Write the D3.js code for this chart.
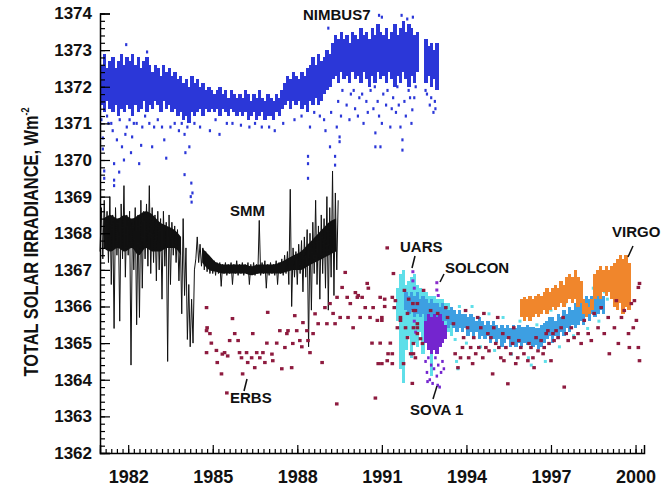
<!DOCTYPE html>
<html>
<head>
<meta charset="utf-8">
<script src="https://cdn.jsdelivr.net/npm/d3@7"></script>
<style>
body { margin: 0; background: #fff; }
text { font-family: "Liberation Sans", Arial, Helvetica, sans-serif; font-weight: bold; }
</style>
</head>
<body>
<svg id="chart" width="667" height="487"></svg>
<script>
// ---- data ----
var BIN = 0.1; // banded series are given as min/max per 0.1 yr bin

// NIMBUS7 dense band, bins from 1981.0
var nimbusStart = 1981.0;
var nimbusHi = [
  1372.6, 1372.9, 1372.5, 1372.7, 1372.8, 1372.5, 1372.7, 1372.9, 1372.6, 1372.8,
  1372.7, 1372.9, 1372.6, 1372.8, 1372.5, 1372.7, 1372.8, 1372.6, 1372.4, 1372.6,
  1372.5, 1372.3, 1372.6, 1372.4, 1372.5, 1372.3, 1372.4, 1372.2, 1372.3, 1372.1,
  1372.2, 1372.0, 1372.3, 1372.1, 1372.2, 1372.0, 1372.1, 1371.9, 1372.0, 1371.9,
  1371.8, 1371.9, 1372.0, 1371.8, 1371.9, 1371.7, 1371.9, 1371.8, 1371.7, 1371.8,
  1371.7, 1371.9, 1371.8, 1371.6, 1371.8, 1371.7, 1371.9, 1371.7, 1371.6, 1371.8,
  1371.7, 1371.6, 1371.8, 1371.7, 1371.9, 1372.1, 1372.3, 1372.2, 1372.4, 1372.3,
  1372.2, 1372.4, 1372.3, 1372.5, 1372.6, 1372.8, 1372.6, 1372.9, 1372.7, 1372.8,
  1373.0, 1372.9, 1373.2, 1373.4, 1373.3, 1373.5, 1373.3, 1373.4, 1373.2, 1373.5,
  1373.4, 1373.3, 1373.6, 1373.4, 1373.5, 1373.3, 1373.6, 1373.4, 1373.7, 1373.5,
  1373.4, 1373.6, 1373.3, 1373.5, 1373.7, 1373.4, 1373.6, 1373.8, 1373.5, 1373.7,
  1373.6, 1373.4, 1373.5, null, null, 1373.3, 1373.1, 1373.2, 1373.0, 1373.2
];
var nimbusLo = [
  1371.5, 1371.3, 1371.6, 1371.4, 1371.3, 1371.5, 1371.2, 1371.4, 1371.3, 1371.5,
  1371.4, 1371.2, 1371.5, 1371.3, 1371.4, 1371.6, 1371.3, 1371.5, 1371.4, 1371.6,
  1371.5, 1371.3, 1371.6, 1371.4, 1371.5, 1371.3, 1371.4, 1371.2, 1371.3, 1371.1,
  1371.2, 1371.0, 1371.3, 1371.2, 1371.3, 1371.4, 1371.2, 1371.4, 1371.3, 1371.4,
  1371.3, 1371.4, 1371.2, 1371.4, 1371.3, 1371.2, 1371.4, 1371.3, 1371.2, 1371.3,
  1371.2, 1371.3, 1371.1, 1371.2, 1371.3, 1371.1, 1371.2, 1371.3, 1371.1, 1371.2,
  1371.2, 1371.1, 1371.3, 1371.2, 1371.4, 1371.5, 1371.6, 1371.4, 1371.6, 1371.5,
  1371.6, 1371.4, 1371.5, 1371.3, 1371.6, 1371.5, 1371.7, 1371.5, 1371.6, 1371.8,
  1371.9, 1372.0, 1372.2, 1372.3, 1372.1, 1372.4, 1372.2, 1372.3, 1372.1, 1372.4,
  1372.2, 1372.3, 1372.1, 1372.4, 1372.2, 1372.0, 1372.3, 1372.1, 1372.4, 1372.2,
  1372.3, 1372.1, 1372.4, 1372.2, 1372.0, 1372.3, 1372.1, 1372.4, 1372.2, 1372.0,
  1372.3, 1372.1, 1372.4, null, null, 1372.1, 1372.3, 1372.0, 1372.2, 1371.9
];
// NIMBUS7 scattered daily values outside the band [year, W/m2]
var nimbusPts = [
  [1981.1,1370.6],[1981.1,1370.3],[1981.15,1369.7],[1981.15,1369.5],[1981.3,1371.0],[1981.45,1370.8],
  [1981.5,1369.9],[1981.5,1369.45],[1981.5,1369.3],[1981.6,1370.55],[1981.68,1369.67],[1981.78,1370.36],
  [1981.85,1370.0],[1981.9,1370.7],[1981.93,1373.15],[1982.1,1370.2],[1982.14,1370.63],[1982.2,1371.0],
  [1982.39,1369.9],[1982.46,1370.4],[1982.5,1370.9],[1982.67,1372.95],[1982.85,1370.36],[1982.92,1370.9],
  [1983.28,1370.55],[1983.35,1370.05],[1983.5,1370.9],[1984.0,1369.6],[1984.03,1370.2],[1984.17,1370.36],
  [1984.24,1369.37],[1984.28,1369.1],[1984.0,1370.7],[1984.1,1370.9],[1984.25,1368.85],[1984.22,1369.0],
  [1984.9,1370.8],[1985.24,1370.7],[1985.7,1371.0],[1986.74,1370.9],[1987.2,1370.8],[1988.38,1370.1],
  [1988.38,1369.9],[1988.38,1369.5],[1988.45,1370.9],[1988.8,1371.2],[1989.1,1373.6],[1989.16,1370.36],
  [1989.34,1370.1],[1989.34,1369.86],[1989.5,1370.63],[1989.5,1370.5],[1989.4,1370.9],[1989.45,1371.6],
  [1989.6,1371.9],[1989.75,1371.5],[1989.9,1371.8],[1990.05,1371.4],[1990.2,1371.7],[1990.35,1371.0],
  [1990.5,1371.3],[1990.6,1371.9],[1990.77,1370.74],[1990.77,1370.36],[1990.85,1371.6],[1990.9,1371.2],
  [1990.9,1373.95],[1990.95,1370.36],[1991.0,1373.9],[1991.05,1371.8],[1991.15,1371.5],[1991.3,1370.9],
  [1991.4,1371.7],[1991.5,1371.3],[1991.66,1370.9],[1991.7,1373.95],[1991.73,1370.55],[1991.73,1370.27],
  [1991.8,1371.6],[1991.9,1373.85],[1991.95,1371.9],[1992.08,1371.37],[1992.1,1373.9],[1992.15,1371.7],
  [1992.2,1372.0],[1992.6,1371.8],[1992.7,1371.5],[1992.83,1371.3],[1992.88,1371.6],
  [1981.05,1371.1],[1981.25,1371.2],[1981.4,1371.0],[1981.7,1371.1],[1981.95,1370.9],[1982.05,1371.1],
  [1982.3,1371.0],[1982.6,1371.2],[1982.75,1371.0],[1983.05,1371.1],[1983.2,1370.9],[1983.65,1371.0],
  [1983.8,1370.8],[1983.9,1371.0],[1984.35,1371.0],[1984.55,1370.9],[1985.1,1371.1],[1985.5,1371.0],
  [1986.0,1370.95],[1986.3,1370.9],[1986.5,1371.0],[1987.0,1370.9],[1987.5,1371.0],[1987.9,1371.1],
  [1988.15,1371.2],[1988.6,1371.3],[1988.95,1371.1],[1989.2,1371.3],[1989.55,1371.2],[1989.85,1371.1],
  [1990.0,1371.9],[1990.15,1371.2],[1990.3,1371.8],[1990.45,1371.6],[1990.7,1371.4],[1990.75,1372.0],
  [1991.0,1371.0],[1991.2,1371.9],[1991.35,1371.4],[1991.55,1372.0],[1991.6,1371.5],[1991.85,1371.2],
  [1992.0,1371.7],[1992.05,1371.0],[1992.55,1371.9],[1992.75,1371.7],[1992.9,1371.4],[1989.0,1370.8]
];

// SMM, min/max per bin from 1981.0 (spikes included)
var smmStart = 1981.0;
var smmLo = [
  1367.5, 1367.3, 1367.6, 1367.2, 1366.6, 1365.4, 1367.4, 1365.6, 1367.3, 1366.8,
  1367.4, 1364.4, 1367.0, 1365.5, 1365.7, 1366.5, 1367.3, 1367.1, 1366.9, 1367.2,
  1366.7, 1367.0, 1366.2, 1367.1, 1364.5, 1366.6, 1367.4, 1367.2, 1366.7, 1365.8,
  1366.3, 1365.1, 1364.9, 1365.0, 1367.3, 1367.2, 1367.1, 1367.0, 1366.95, 1366.9,
  1366.9, 1366.85, 1366.9, 1366.55, 1366.9, 1366.85, 1366.9, 1366.6, 1366.9, 1366.85,
  1366.9, 1366.85, 1366.9, 1366.6, 1366.9, 1366.85, 1366.9, 1366.85, 1366.9, 1366.5,
  1366.85, 1366.9, 1366.85, 1366.6, 1366.9, 1366.85, 1366.9, 1366.6, 1366.0, 1366.8,
  1366.6, 1366.9, 1366.4, 1366.8, 1364.9, 1365.9, 1366.9, 1366.6, 1366.2, 1366.9,
  1366.5, 1365.9, 1366.8, 1366.3, 1367.0
];
var smmHi = [
  1368.7, 1368.9, 1368.6, 1369.0, 1368.5, 1368.7, 1368.4, 1368.8, 1369.3, 1368.5,
  1368.6, 1368.3, 1368.7, 1368.5, 1368.9, 1368.6, 1368.8, 1369.3, 1368.7, 1368.5,
  1368.6, 1368.4, 1368.6, 1368.3, 1368.5, 1368.3, 1368.2, 1368.1, 1367.9, 1368.4,
  1367.6, 1366.6, 1366.2, 1367.0, 1367.9, 1367.7, 1367.6, 1367.5, 1367.4, 1367.3,
  1367.25, 1367.2, 1367.2, 1367.15, 1367.2, 1367.15, 1367.2, 1367.15, 1367.25, 1367.15,
  1367.2, 1367.15, 1367.2, 1367.15, 1367.2, 1367.15, 1368.35, 1367.2, 1367.25, 1367.15,
  1367.2, 1367.15, 1367.25, 1367.2, 1367.3, 1367.4, 1367.5, 1369.2, 1367.6, 1367.5,
  1367.7, 1367.8, 1367.9, 1368.1, 1368.0, 1368.3, 1368.9, 1368.2, 1368.5, 1368.4,
  1369.0, 1368.7, 1369.7, 1369.1, 1368.9
];
// SMM dense core, per 0.25 yr from 1981.0 (none across the early-1984 drop)
var SMM_CORE_BIN = 0.25;
var smmCoreLo = [
  1367.6, 1367.5, 1367.6, 1367.5, 1367.6, 1367.4, 1367.6, 1367.5, 1367.5, 1367.6,
  1367.6, 1367.4, null, null, 1367.2, 1367.0, 1366.95, 1366.9, 1366.9, 1366.9,
  1366.9, 1366.85, 1366.9, 1366.9, 1366.9, 1366.9, 1366.95, 1367.0, 1367.0, 1367.1,
  1367.2, 1367.3, 1367.4, 1367.5
];
var smmCoreHi = [
  1368.4, 1368.5, 1368.4, 1368.5, 1368.4, 1368.5, 1368.6, 1368.5, 1368.3, 1368.2,
  1368.1, 1367.9, null, null, 1367.6, 1367.4, 1367.2, 1367.15, 1367.15, 1367.15,
  1367.15, 1367.1, 1367.15, 1367.15, 1367.15, 1367.2, 1367.3, 1367.4, 1367.5, 1367.7,
  1367.9, 1368.1, 1368.3, 1368.4
];

// ERBS [year, W/m2]
var erbsPts = [
  [1984.78,1365.97],[1984.8,1365.42],[1984.78,1365.34],[1984.9,1365.26],[1984.78,1364.74],[1984.95,1365.0],
  [1985.13,1364.8],[1985.16,1364.47],[1985.31,1364.16],[1985.34,1364.7],[1985.42,1364.74],[1985.53,1364.65],
  [1985.6,1365.07],[1985.7,1365.67],[1985.78,1365.26],[1985.9,1365.07],[1985.95,1364.74],[1986.02,1364.6],
  [1986.06,1364.16],[1986.2,1364.74],[1986.24,1364.47],[1986.38,1364.6],[1986.42,1365.26],[1986.49,1364.33],
  [1986.56,1364.74],[1986.67,1364.6],[1986.78,1364.74],[1986.85,1364.47],[1986.92,1365.0],[1986.95,1365.84],
  [1987.1,1364.7],[1987.13,1364.52],[1987.27,1365.0],[1987.38,1365.34],[1987.45,1364.3],[1987.56,1364.88],
  [1987.63,1365.26],[1987.67,1365.34],[1987.8,1364.33],[1987.84,1364.99],[1987.91,1365.75],[1987.98,1365.34],
  [1988.09,1365.07],[1988.16,1364.9],[1988.2,1365.56],[1988.34,1365.34],[1988.38,1365.07],[1988.45,1364.74],
  [1988.56,1365.26],[1988.63,1365.8],[1988.74,1365.53],[1988.88,1364.47],[1988.98,1365.97],[1989.05,1365.53],
  [1989.16,1366.08],[1989.27,1365.81],[1989.34,1365.53],[1989.41,1366.25],[1989.52,1365.7],[1989.59,1366.52],
  [1989.7,1366.93],[1989.77,1366.25],[1989.8,1365.7],[1989.88,1366.08],[1989.98,1365.42],[1990.06,1366.38],
  [1990.13,1366.25],[1990.16,1366.3],[1990.23,1365.7],[1990.3,1366.25],[1990.41,1365.97],[1990.48,1366.63],
  [1990.52,1366.5],[1990.58,1365.7],[1990.65,1365.0],[1990.69,1365.97],[1990.84,1365.62],[1990.87,1364.44],
  [1990.94,1366.25],[1991.0,1365.7],[1991.1,1366.0],[1991.19,1367.6],[1991.22,1364.71],[1991.37,1364.44],
  [1991.41,1366.9],[1991.44,1365.97],[1991.55,1365.42],[1991.66,1365.7],[1991.77,1364.44],[1991.91,1365.15],
  [1992.08,1363.9],[1992.12,1364.71],[1992.19,1365.89],[1992.26,1365.42],[1990.77,1363.5],[1989.4,1363.34],
  [1985.5,1363.64],
  [1991.1,1366.2],[1991.37,1366.25],[1991.48,1366.16],[1991.0,1365.62],[1990.94,1365.0],[1991.3,1365.0],
  [1991.37,1364.71],[1991.19,1364.52],[1991.0,1364.44],[1991.8,1366.44],[1991.95,1366.2],[1992.1,1366.08],
  [1992.12,1365.89],[1991.91,1365.81],[1991.66,1365.62],[1991.84,1365.42],[1992.12,1365.42],[1992.26,1365.53],
  [1992.26,1366.08],[1992.12,1364.99],[1992.02,1364.71],[1992.19,1364.6],[1992.26,1365.26],[1992.37,1365.12],
  [1992.44,1364.99],[1992.48,1366.44],[1992.73,1365.89],[1992.98,1365.81],[1993.27,1365.97],[1993.33,1365.7],
  [1993.54,1365.53],[1993.6,1364.71],[1993.7,1364.33],[1993.79,1364.6],[1993.86,1364.88],[1993.9,1365.15],
  [1993.97,1365.89],[1994.04,1365.42],[1994.08,1364.6],[1994.15,1364.88],[1994.22,1364.44],[1994.26,1365.15],
  [1994.33,1364.71],[1994.4,1365.7],[1994.44,1364.88],[1994.51,1365.42],[1994.58,1364.6],[1994.62,1365.81],
  [1994.69,1364.88],[1994.76,1365.26],[1994.8,1364.79],[1994.87,1365.15],[1994.93,1364.16],[1994.97,1365.42],
  [1995.04,1364.99],[1995.11,1365.7],[1995.15,1364.88],[1995.22,1364.6],[1995.29,1365.26],[1995.33,1364.52],
  [1995.4,1364.88],[1995.47,1363.89],[1995.5,1365.15],[1995.57,1364.71],[1995.64,1364.99],[1995.68,1365.42],
  [1995.75,1364.44],[1995.82,1364.6],[1995.86,1365.07],[1995.93,1364.88],[1996.04,1364.71],[1996.18,1364.52],
  [1996.22,1364.99],[1996.29,1364.88],[1996.36,1364.6],[1996.4,1364.33],[1996.47,1365.15],[1996.54,1364.79],
  [1996.65,1365.07],[1996.72,1364.71],[1996.76,1364.88],[1996.83,1365.26],[1996.89,1365.34],[1996.93,1364.99],
  [1997.0,1364.52],[1997.07,1365.26],[1997.11,1365.07],[1997.18,1365.34],[1997.25,1365.15],[1997.36,1365.42],
  [1997.43,1365.7],[1997.47,1363.8],[1997.54,1365.26],[1997.61,1365.07],[1997.72,1365.42],[1997.82,1365.15],
  [1997.96,1365.26],[1998.07,1364.99],[1998.18,1365.62],[1998.32,1365.26],[1998.43,1365.07],[1998.53,1365.81],
  [1998.67,1365.42],[1998.78,1365.97],[1998.89,1365.26],[1999.03,1365.7],[1999.07,1364.71],[1999.25,1365.42],
  [1999.32,1366.16],[1999.39,1364.99],[1999.5,1365.7],[1999.6,1365.89],[1999.75,1365.26],[1999.78,1364.88],
  [1999.85,1366.08],[1999.92,1365.42],[1999.96,1366.16],[2000.03,1365.62],[2000.1,1364.88],[2000.14,1364.52],
  [2000.1,1366.52],[2000.14,1366.63]
];

// UARS (cyan) band, bins from 1991.5, plus scattered values
var uarsStart = 1991.5;
var uarsLo = [1365.6, 1364.3, 1363.9, 1364.8, 1365.2, 1364.6, 1365.0, 1364.9, 1365.3, 1364.7,
              1365.4, 1365.3, 1364.1, 1365.4, 1365.3, 1365.4, 1365.3, 1365.2, 1365.3, 1365.2];
var uarsHi = [1366.5, 1366.9, 1367.0, 1366.6, 1366.7, 1366.8, 1366.9, 1366.6, 1366.5, 1366.4,
              1366.4, 1366.3, 1366.3, 1366.3, 1366.2, 1366.2, 1366.2, 1366.1, 1366.1, 1366.0];
var uarsPts = [
  [1993.6,1365.1],[1993.65,1364.5],[1993.7,1364.3],[1993.75,1366.0],[1994.0,1365.0],[1994.2,1366.0],
  [1994.5,1364.9],[1994.8,1365.8],[1995.0,1364.8],[1995.3,1365.7],[1995.6,1364.7],[1995.9,1365.6],
  [1996.2,1364.6],[1996.3,1364.4],[1996.5,1365.5],[1996.8,1364.5],[1997.0,1365.9],[1997.3,1364.9],
  [1997.5,1366.1],[1997.8,1365.2],[1998.0,1366.4],[1998.3,1365.4],[1998.5,1366.5],[1998.7,1365.6],
  [1998.9,1366.4],[1999.0,1366.2]
];

// UARS/ACRIM dense band (sky blue), bins from 1991.8
var acrimStart = 1991.8;
var acrimLo = [
  1365.9, 1365.8, 1365.9, 1365.7, 1365.8, 1365.7, 1365.8, 1365.6, 1365.7, 1365.6,
  1365.7, 1365.5, 1365.6, 1365.5, 1365.6, 1365.4, 1365.5, 1365.4, 1365.3, 1365.4,
  1365.3, 1365.4, 1365.2, 1365.3, 1365.2, 1365.3, 1365.1, 1365.2, 1365.1, 1365.2,
  1365.0, 1365.1, 1365.0, 1365.1, 1364.9, 1365.0, 1365.1, 1364.9, 1365.0, 1364.9,
  1365.0, 1364.9, 1365.0, 1364.95, 1365.0, 1364.9, 1364.95, 1364.85, 1364.9, 1365.0,
  1365.1, 1365.2, 1365.0, 1365.2, 1365.1, 1365.3, 1365.2, 1365.4, 1365.3, 1365.5,
  1365.4, 1365.5, 1365.6, 1365.5, 1365.7, 1365.6, 1365.8, 1365.7, 1365.8, 1365.9,
  1365.8
];
var acrimHi = [
  1366.4, 1366.3, 1366.4, 1366.3, 1366.4, 1366.2, 1366.3, 1366.2, 1366.1, 1366.2,
  1366.1, 1366.1, 1366.0, 1366.1, 1366.0, 1365.9, 1366.0, 1365.9, 1365.8, 1365.9,
  1365.8, 1365.8, 1365.7, 1365.8, 1365.7, 1365.6, 1365.7, 1365.6, 1365.5, 1365.6,
  1365.5, 1365.6, 1365.5, 1365.4, 1365.5, 1365.4, 1365.5, 1365.4, 1365.5, 1365.4,
  1365.5, 1365.45, 1365.45, 1365.5, 1365.45, 1365.45, 1365.4, 1365.4, 1365.5, 1365.55,
  1365.6, 1365.7, 1365.7, 1365.6, 1365.8, 1365.7, 1365.9, 1365.8, 1366.0, 1365.9,
  1366.1, 1366.0, 1366.2, 1366.1, 1366.3, 1366.2, 1366.3, 1366.2, 1366.4, 1366.3,
  1366.3
];

// VIRGO band, bins from 1995.9
var virgoStart = 1995.9;
var virgoLo = [
  1365.7, 1365.6, 1365.7, 1365.6, 1365.7, 1365.8, 1365.7, 1365.8, 1365.9, 1365.8,
  1365.9, 1366.0, 1365.9, 1366.0, 1366.1, 1366.0, 1366.1, 1366.2, 1366.1, 1366.2,
  1366.0, 1366.1, 1365.8, 1365.7, 1365.8, 1365.9, 1366.2, 1366.3, 1366.2, 1366.4,
  1366.3, 1366.4, 1366.2, 1366.0, 1365.9, 1366.1, 1365.8, 1366.0, 1365.9
];
var virgoHi = [
  1366.2, 1366.25, 1366.2, 1366.3, 1366.2, 1366.3, 1366.35, 1366.3, 1366.4, 1366.5,
  1366.4, 1366.5, 1366.6, 1366.5, 1366.7, 1366.6, 1366.8, 1366.9, 1366.8, 1367.0,
  1366.8, 1366.7, 1366.2, 1366.1, 1366.0, 1366.2, 1366.9, 1367.0, 1367.1, 1367.0,
  1367.1, 1367.0, 1367.1, 1367.2, 1367.3, 1367.4, 1367.3, 1367.4, 1367.2
];

// SOVA 1 band, bins from 1992.5, plus its low tail
var sovaStart = 1992.5;
var sovaLo = [1365.0, 1364.8, 1364.7, 1364.8, 1364.7, 1364.9, 1365.0, 1365.1];
var sovaHi = [1365.6, 1365.8, 1365.7, 1365.8, 1365.7, 1365.8, 1365.6, 1365.5];
var sovaPts = [
  [1992.55,1364.5],[1992.6,1364.2],[1992.62,1363.95],[1992.65,1364.6],[1992.7,1364.0],[1992.75,1364.4],
  [1992.8,1363.9],[1992.85,1364.3],[1992.9,1364.6],[1992.95,1364.1],[1992.98,1363.85],[1993.0,1364.4],
  [1993.05,1363.8],[1993.1,1364.2],[1993.15,1364.5],[1993.2,1364.3]
];

// SOLCON
var solconPts = [
  [1992.1,1366.95],[1992.1,1366.7],[1992.15,1366.5],[1992.15,1365.6],[1992.2,1365.3],
  [1992.95,1366.65],[1992.95,1366.45],[1993.0,1366.3]
];

var yMajor = d3.range(1362, 1374.01, 1);
var xMajor = [1982, 1985, 1988, 1991, 1994, 1997, 2000];

// ---- chart ----
var svg = d3.select("#chart");
var x = d3.scaleLinear().domain([1981, 2000.3]).range([100, 644]);
var y = d3.scaleLinear().domain([1362, 1374]).range([453, 13.5]);

function bandRects(g, start, lo, hi, color, step) {
  step = step || BIN;
  var bins = lo.map(function(v, i) {
    return {t: start + i * step, lo: v, hi: hi[i]};
  }).filter(function(d) { return d.lo != null; });
  g.selectAll(null).data(bins).enter().append("rect")
    .attr("x", function(d) { return x(d.t); })
    .attr("width", function(d) { return x(d.t + step) - x(d.t) + 0.6; })
    .attr("y", function(d) { return y(d.hi); })
    .attr("height", function(d) { return y(d.lo) - y(d.hi); })
    .attr("shape-rendering", "crispEdges")
    .attr("fill", color);
}

function dots(g, pts, color, w, h) {
  g.selectAll(null).data(pts).enter().append("rect")
    .attr("x", function(d) { return x(d[0]) - w / 2; })
    .attr("y", function(d) { return y(d[1]) - h / 2; })
    .attr("width", w)
    .attr("height", h)
    .attr("fill", color);
}

var plot = svg.append("g");

// NIMBUS7
var gN = plot.append("g");
bandRects(gN, nimbusStart, nimbusLo, nimbusHi, "#2b37d8");
dots(gN, nimbusPts, "#2b37d8", 2.2, 3);

// SMM: dense core area + zig-zag line through bin min/max
var gSmm = plot.append("g");
var smmCore = smmCoreLo.map(function(v, i) {
  return {t: smmStart + (i + 0.5) * SMM_CORE_BIN, lo: v, hi: smmCoreHi[i]};
});
gSmm.append("path")
  .datum(smmCore)
  .attr("fill", "#111")
  .attr("d", d3.area()
    .defined(function(d) { return d.lo != null; })
    .curve(d3.curveMonotoneX)
    .x(function(d) { return x(d.t); })
    .y0(function(d) { return y(d.lo); })
    .y1(function(d) { return y(d.hi); }));
var smmLine = [];
smmLo.forEach(function(v, i) {
  var t = smmStart + i * BIN;
  smmLine.push([t, v]);
  smmLine.push([t + BIN / 2, smmHi[i]]);
});
gSmm.append("path")
  .datum(smmLine)
  .attr("fill", "none")
  .attr("stroke", "#111")
  .attr("stroke-width", 1)
  .attr("d", d3.line()
    .x(function(d) { return x(d[0]); })
    .y(function(d) { return y(d[1]); }));

// UARS cyan, ACRIM sky blue, VIRGO orange, SOVA purple
var gU = plot.append("g");
bandRects(gU, uarsStart, uarsLo, uarsHi, "#5fdfe9");
dots(gU, uarsPts, "#5fdfe9", 3, 3);
bandRects(plot.append("g"), acrimStart, acrimLo, acrimHi, "#3d9fe2");
bandRects(plot.append("g"), virgoStart, virgoLo, virgoHi, "#f0862c");
var gS = plot.append("g");
bandRects(gS, sovaStart, sovaLo, sovaHi, "#7425cf");
dots(gS, sovaPts, "#7425cf", 2.5, 3);
dots(plot.append("g"), solconPts, "#8a2bcc", 3, 3);

// ERBS on top
dots(plot.append("g"), erbsPts, "#8e1b3f", 3.6, 3.2);

// ---- axes ----
var axisFont = '"Liberation Sans", Arial, sans-serif';

var yAxis = svg.append("g").attr("transform", "translate(100,0)");
yAxis.call(d3.axisLeft(y).tickValues(d3.range(1362, 1374.01, 0.2)).tickSize(-5).tickFormat(""));
yAxis.append("g").call(d3.axisLeft(y).tickValues(yMajor).tickSize(-10).tickPadding(8).tickFormat(d3.format("d")));

var xAxis = svg.append("g").attr("transform", "translate(0,453)");
xAxis.call(d3.axisBottom(x).tickValues(d3.range(1981, 2000.31, 0.2)).tickSize(-4).tickFormat(""));
xAxis.append("g").call(d3.axisBottom(x).tickValues(xMajor).tickSize(-8).tickPadding(17).tickFormat(d3.format("d")));

svg.selectAll(".domain").attr("stroke", "#000").attr("stroke-width", 1.5);
svg.selectAll(".tick line").attr("stroke", "#000").attr("stroke-width", 1.2);
yAxis.selectAll("text").attr("font-size", 17).attr("font-family", axisFont).attr("font-weight", "bold").attr("fill", "#111");
xAxis.selectAll("text").attr("font-size", 18).attr("font-family", axisFont).attr("font-weight", "bold").attr("fill", "#111");
// only one domain line per axis
yAxis.select("g .domain").remove();
xAxis.select("g .domain").remove();

// y title
var title = svg.append("text")
  .attr("transform", "translate(38,242) rotate(-90) scale(0.82,1)")
  .attr("text-anchor", "middle")
  .attr("font-size", 20)
  .attr("fill", "#111");
title.append("tspan").text("TOTAL SOLAR IRRADIANCE, Wm");
title.append("tspan").attr("font-size", 11).attr("dy", -9).text("-2");

// ---- instrument labels ----
var labels = [
  {t: "NIMBUS7", x: 303, y: 20},
  {t: "SMM", x: 230, y: 216},
  {t: "ERBS", x: 230, y: 403},
  {t: "UARS", x: 400, y: 252},
  {t: "SOLCON", x: 445, y: 273},
  {t: "SOVA 1", x: 410, y: 415},
  {t: "VIRGO", x: 612, y: 237}
];
svg.append("g").selectAll("text").data(labels).enter().append("text")
  .attr("x", function(d) { return d.x; })
  .attr("y", function(d) { return d.y; })
  .attr("font-size", 15)
  .attr("fill", "#111")
  .text(function(d) { return d.t; });

var leaders = [
  [247, 379, 244, 391], [415, 256, 412, 268], [444, 274, 440, 282],
  [437, 386, 433, 399], [633, 246, 628, 257]
];
svg.append("g").selectAll("line").data(leaders).enter().append("line")
  .attr("x1", function(d) { return d[0]; }).attr("y1", function(d) { return d[1]; })
  .attr("x2", function(d) { return d[2]; }).attr("y2", function(d) { return d[3]; })
  .attr("stroke", "#111").attr("stroke-width", 1.5);
</script>
</body>
</html>
